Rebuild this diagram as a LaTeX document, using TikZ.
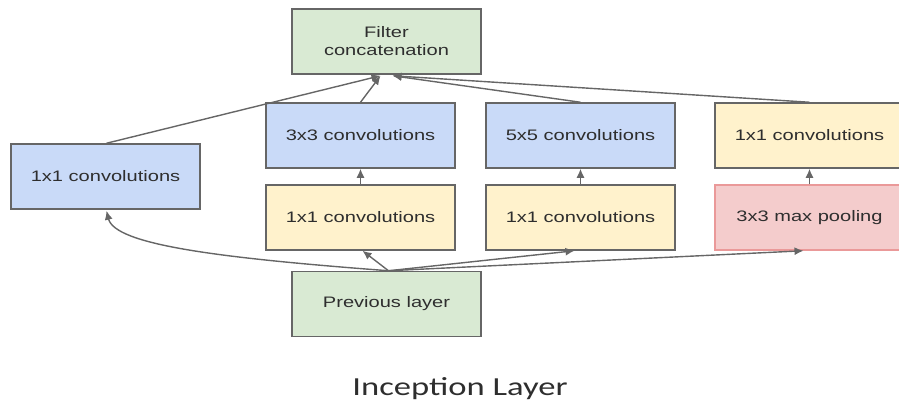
\documentclass[tikz,border=0pt]{standalone}
\usepackage{fontspec}
\setmainfont{Liberation Sans}
\newfontfamily\boxfont{Liberation Sans}[FakeStretch=1.32]
\newfontfamily\capfont{Carlito}[FakeStretch=1.33]
\usetikzlibrary{arrows.meta,calc}
\definecolor{inkgray}{HTML}{2E2E2E}
\definecolor{edgegray}{HTML}{666666}
\definecolor{fillgreen}{HTML}{D9EAD3}
\definecolor{fillblue}{HTML}{C9DAF8}
\definecolor{fillyellow}{HTML}{FFF2CC}
\definecolor{fillred}{HTML}{F4CCCC}
\definecolor{edgered}{HTML}{EA9999}
\tikzset{
  layerbox/.style={draw=edgegray, line width=1.5pt, minimum width=189pt, minimum height=65pt,
    inner sep=0pt, align=center, text=inkgray, font=\boxfont\fontsize{15.2}{18}\selectfont},
  greenbox/.style={layerbox, fill=fillgreen},
  bluebox/.style={layerbox, fill=fillblue},
  yellowbox/.style={layerbox, fill=fillyellow},
  redbox/.style={layerbox, fill=fillred, draw=edgered},
  flow/.style={draw=edgegray, line width=1.4pt, -{Latex[length=9pt,width=8pt]}}
}
\begin{document}
\begin{tikzpicture}[x=1pt,y=-1pt]
  \useasboundingbox (0,0) rectangle (899,404);
  \clip (0,0) rectangle (899,404);
  % boxes
  \node[greenbox]  (concat) at (386.5,41.5)  {Filter\\concatenation};
  \node[bluebox]   (onea)   at (105.5,176.5) {1x1 convolutions};
  \node[bluebox]   (three)  at (360.5,135.5) {3x3 convolutions};
  \node[yellowbox] (oneb)   at (360.5,217.5) {1x1 convolutions};
  \node[bluebox]   (five)   at (580.5,135.5) {5x5 convolutions};
  \node[yellowbox] (onec)   at (580.5,217.5) {1x1 convolutions};
  \node[yellowbox] (oned)   at (809.5,135.5) {1x1 convolutions};
  \node[redbox]    (pool)   at (809.5,217.5) {3x3 max pooling};
  \node[greenbox]  (prev)   at (386.5,304)   {Previous layer};
  \node[text=inkgray, font=\capfont\fontsize{26}{31}\selectfont] (title) at (460,389) {Inception Layer};
  % ends of the connectors
  \coordinate (src)  at ($(prev.north)+(2,0)$);
  \coordinate (inl)  at ($(concat.south)+(-6,1)$);
  \coordinate (inr)  at ($(concat.south)+(6,1)$);
  % from the previous layer
  \draw[flow] (src) .. controls (220,258) and (115,245) .. ($(onea.south)+(1,1)$);
  \draw[flow] (src) -- ($(oneb.south)+(2,0)$);
  \draw[flow] (src) -- ($(onec.south)+(-6,0)$);
  \draw[flow] (src) -- ($(pool.south)+(-6,0)$);
  % inner stacks
  \draw[flow] (oneb.north) -- (three.south);
  \draw[flow] (onec.north) -- (five.south);
  \draw[flow] (pool.north) -- (oned.south);
  % into the concatenation
  \draw[flow] ($(onea.north)+(1,0)$) -- (inl);
  \draw[flow] (three.north) -- (inl);
  \draw[flow] (five.north) -- (inr);
  \draw[flow] (oned.north) -- (inr);
\end{tikzpicture}
\end{document}
